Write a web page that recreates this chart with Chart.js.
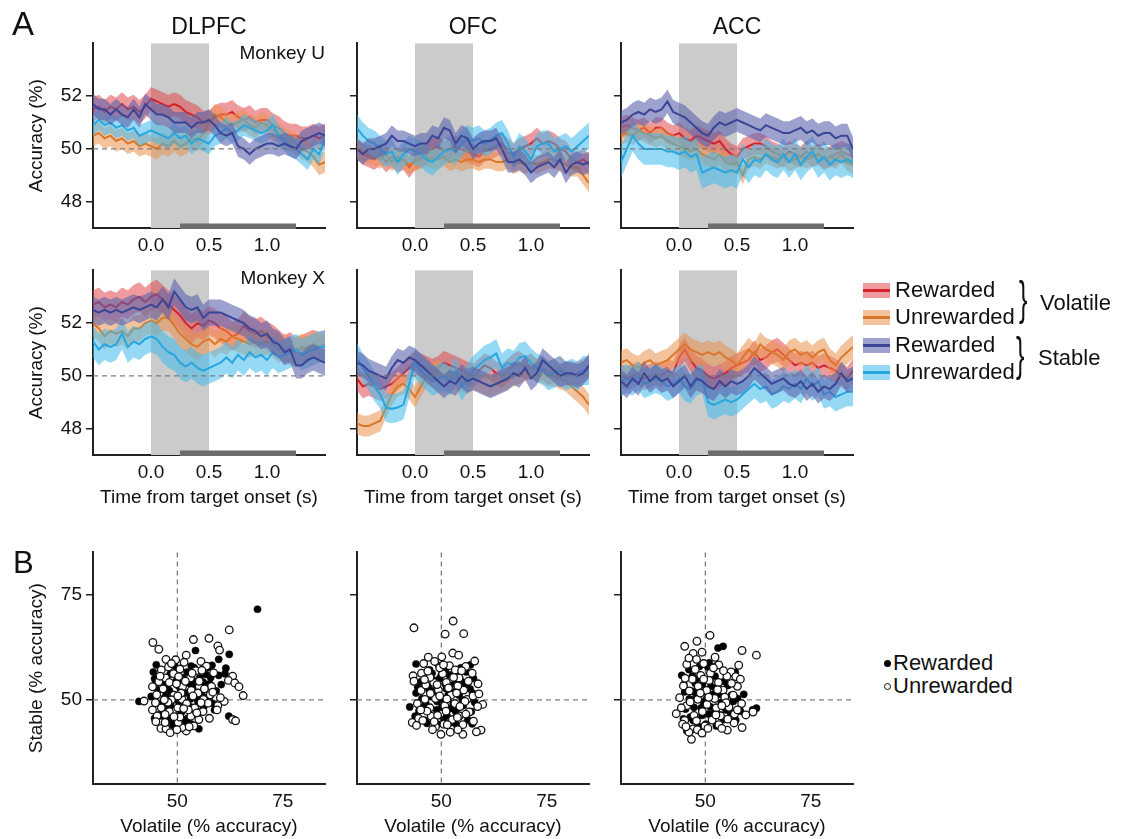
<!DOCTYPE html>
<html>
<head>
<meta charset="utf-8">
<title>Decoding accuracy by area</title>
<script src="https://cdn.jsdelivr.net/npm/chart.js@4.4.1/dist/chart.umd.min.js"></script>
<style>
  html, body { margin: 0; padding: 0; background: #fff; }
  #fig { position: relative; width: 1122px; height: 839px; overflow: hidden;
         font-family: "Liberation Sans", Arial, Helvetica, sans-serif; color: #111; }
  #fig canvas { position: absolute; }
  .lbl { position: absolute; white-space: nowrap; line-height: 1; transform-origin: left center; }
  .sw { position: absolute; width: 27px; height: 15px; }
  .sw i { position: absolute; left: 0; right: 0; top: 6px; height: 3px; }
  .dot { position: absolute; width: 7px; height: 7px; border-radius: 50%; box-sizing: border-box; }
</style>
</head>
<body>
<div id="fig"></div>
<script>
/* global Chart */

// ---- data -------------------------------------------------------------------------------

const time = [-0.5, -0.45, -0.4, -0.35, -0.3, -0.25, -0.2, -0.15, -0.1, -0.05,
  0, 0.05, 0.1, 0.15, 0.2, 0.25, 0.3, 0.35, 0.4, 0.45,
  0.5, 0.55, 0.6, 0.65, 0.7, 0.75, 0.8, 0.85, 0.9, 0.95,
  1.0, 1.05, 1.1, 1.15, 1.2, 1.25, 1.3, 1.35, 1.4, 1.45, 1.5];
const timeRange = [-0.5, 1.5];
const timeTicks = [0, 0.5, 1.0];
const accRange = [47, 54];
const accTicks = [48, 50, 52];
const stimWindow = [0, 0.5];          // grey shading
const analysisWindow = [0.25, 1.25];  // dark bar on the time axis
const chance = 50;

const areaNames = ["DLPFC", "OFC", "ACC"];
const monkeyNames = ["Monkey U", "Monkey X"];
const conditionLabels = ["Rewarded", "Unrewarded", "Rewarded", "Unrewarded"];
const groupLabels = ["Volatile", "Stable"];

// Monkey U
const dlpfcU_volRew = [51.5, 51.6, 51.4, 51.6, 51.5, 51.7, 51.5, 51.6, 51.4, 51.6,
  51.9, 51.8, 51.7, 51.6, 51.7, 51.6, 51.4, 51.3, 51.2, 51.0,
  51.0, 51.2, 51.3, 51.3, 51.4, 51.2, 51.1, 51.2, 51.0, 51.1,
  51.1, 50.9, 50.8, 50.6, 50.5, 50.5, 50.4, 50.4, 50.5, 50.4, 50.5];
const dlpfcU_volUnrew = [50.5, 50.6, 50.4, 50.5, 50.3, 50.4, 50.2, 50.3, 50.1, 50.2,
  50.1, 50.0, 50.2, 50.1, 50.3, 50.1, 50.2, 50.4, 50.3, 50.6,
  51.0, 51.3, 51.2, 51.0, 50.9, 51.0, 51.1, 50.9, 50.8, 51.0,
  50.9, 50.7, 50.6, 50.4, 50.3, 50.2, 50.0, 49.9, 49.7, 49.4, 49.5];
const dlpfcU_stbRew = [51.7, 51.5, 51.5, 51.3, 51.5, 51.3, 51.2, 51.5, 51.2, 51.7,
  51.5, 51.3, 51.3, 51.2, 51.0, 51.0, 51.0, 50.8, 51.0, 51.0,
  51.1, 50.9, 50.6, 50.5, 50.6, 50.1, 50.0, 49.8, 50.0, 50.1,
  50.2, 50.2, 50.1, 50.2, 50.1, 50.0, 50.3, 50.4, 50.5, 50.6, 50.5];
const dlpfcU_stbUnrew = [50.9, 51.1, 50.9, 51.0, 50.8, 50.9, 50.7, 50.8, 50.5, 50.6,
  50.7, 50.6, 50.5, 50.4, 50.6, 50.4, 50.5, 50.2, 50.4, 50.3,
  50.2, 50.5, 50.6, 50.8, 50.6, 50.7, 50.9, 50.8, 50.7, 50.6,
  50.7, 50.9, 50.5, 50.3, 50.1, 50.0, 49.8, 49.6, 50.0, 49.8, 50.4];

const ofcU_volRew = [50.0, 49.8, 49.7, 49.6, 49.8, 49.5, 49.7, 49.5, 49.6, 49.3,
  49.6, 49.7, 49.8, 50.0, 50.1, 49.9, 50.0, 50.1, 50.0, 49.9,
  49.8, 49.7, 49.9, 50.0, 50.1, 50.2, 50.0, 49.8, 50.0, 50.1,
  50.2, 50.4, 50.2, 50.3, 50.2, 50.0, 49.9, 49.6, 49.5, 49.6, 49.4];
const ofcU_volUnrew = [50.0, 49.9, 49.8, 49.7, 49.6, 49.8, 49.5, 49.7, 49.6, 49.4,
  49.5, 49.6, 49.7, 49.6, 49.6, 49.7, 49.5, 49.6, 49.5, 49.6,
  49.6, 49.5, 49.6, 49.6, 49.5, 49.5, 49.6, 49.4, 49.5, 49.4,
  49.5, 49.4, 49.5, 49.6, 49.6, 49.5, 49.4, 49.3, 49.3, 49.0, 48.7];
const ofcU_stbRew = [50.0, 49.8, 50.0, 50.0, 50.1, 50.2, 50.5, 50.3, 50.3, 50.2,
  50.1, 50.2, 50.2, 50.5, 50.4, 50.8, 50.7, 50.2, 50.5, 50.4,
  50.0, 50.2, 50.3, 50.3, 50.4, 50.0, 49.5, 49.5, 49.6, 49.4,
  49.1, 49.3, 49.4, 49.5, 49.3, 49.6, 49.1, 49.4, 49.5, 49.4, 49.5];
const ofcU_stbUnrew = [50.8, 50.5, 50.3, 50.2, 50.0, 49.8, 49.9, 49.5, 49.8, 50.0,
  49.9, 49.8, 49.6, 49.5, 49.7, 49.9, 50.0, 49.9, 50.2, 50.4,
  50.3, 50.4, 50.2, 50.3, 50.5, 50.6, 50.2, 49.7, 50.1, 49.9,
  49.6, 50.1, 50.2, 50.2, 49.9, 50.0, 50.1, 49.9, 50.1, 50.3, 50.5];

const accU_volRew = [50.8, 50.9, 50.8, 50.7, 50.8, 50.6, 50.8, 50.8, 50.6, 50.5,
  50.6, 50.4, 50.3, 50.5, 50.4, 50.3, 50.2, 50.3, 50.0, 49.8,
  49.7, 50.0, 50.1, 50.2, 50.2, 50.1, 49.9, 49.8, 49.7, 49.9,
  49.8, 49.7, 49.9, 49.7, 49.8, 49.6, 49.7, 49.8, 49.9, 49.8, 49.7];
const accU_volUnrew = [50.5, 50.6, 50.5, 50.7, 50.6, 50.5, 50.4, 50.5, 50.3, 50.2,
  50.1, 50.0, 49.9, 50.0, 49.8, 49.7, 49.6, 49.8, 49.5, 49.4,
  49.5, 49.0, 49.6, 49.7, 49.6, 49.8, 49.7, 49.6, 49.7, 49.5,
  49.6, 49.7, 49.6, 49.7, 49.8, 49.6, 49.7, 49.6, 49.8, 49.5, 49.4];
const accU_stbRew = [51.0, 51.1, 51.3, 51.4, 51.3, 51.5, 51.4, 51.5, 51.8, 51.4,
  51.3, 51.2, 51.0, 50.8, 50.6, 50.5, 50.8, 51.0, 50.9, 51.0,
  51.1, 51.0, 50.9, 50.8, 50.7, 50.9, 50.8, 50.7, 50.6, 50.6,
  50.7, 50.8, 50.6, 50.7, 50.5, 50.6, 50.6, 50.4, 50.5, 50.5, 50.0];
const accU_stbUnrew = [49.5, 50.0, 50.5, 50.2, 50.0, 50.0, 50.0, 50.0, 49.9, 49.9,
  49.8, 49.9, 49.7, 49.8, 49.1, 49.2, 49.3, 49.2, 49.1, 49.2,
  49.1, 49.6, 49.3, 49.6, 49.5, 49.8, 49.6, 49.5, 49.8, 49.5,
  49.8, 49.4, 49.7, 49.9, 49.5, 49.7, 49.4, 49.6, 49.5, 49.6, 49.5];

// Monkey X
const dlpfcX_volRew = [52.7, 52.8, 52.6, 52.7, 52.6, 52.8, 52.7, 52.9, 53.0, 52.8,
  53.0, 53.1, 52.9, 52.7, 52.5, 52.3, 52.0, 51.8, 52.0, 51.9,
  52.1, 52.0, 51.8, 51.7, 51.5, 51.6, 51.9, 51.7, 51.6, 51.7,
  51.5, 51.4, 51.2, 51.0, 51.1, 50.9, 51.0, 51.1, 51.2, 51.1, 51.2];
const dlpfcX_volUnrew = [52.0, 51.8, 51.5, 51.7, 51.6, 51.7, 51.5, 51.8, 51.8, 52.0,
  52.1, 52.0, 52.2, 52.2, 51.9, 51.6, 51.4, 51.2, 51.1, 51.3,
  51.4, 51.2, 51.4, 51.3, 51.5, 51.4, 51.3, 51.2, 51.3, 51.2,
  51.3, 51.2, 51.0, 51.1, 50.9, 51.0, 51.1, 51.0, 51.2, 51.1, 51.1];
const dlpfcX_stbRew = [52.5, 52.4, 52.5, 52.4, 52.5, 52.4, 52.5, 52.6, 52.5, 52.6,
  52.7, 52.6, 52.9, 52.6, 53.2, 52.9, 52.6, 52.5, 52.6, 52.2,
  52.4, 52.4, 52.4, 52.3, 52.2, 52.1, 52.0, 51.8, 51.7, 51.5,
  51.6, 51.3, 51.2, 50.9, 51.0, 50.4, 50.4, 50.6, 50.7, 50.6, 50.5];
const dlpfcX_stbUnrew = [51.3, 51.0, 51.2, 51.1, 51.2, 51.6, 51.1, 51.3, 51.2, 51.4,
  51.5, 51.4, 51.1, 50.9, 50.8, 50.5, 50.35, 50.5, 50.3, 50.2,
  50.3, 50.4, 50.5, 50.7, 50.5, 50.8, 50.6, 50.9, 50.7, 50.8,
  50.6, 50.9, 50.7, 50.8, 50.9, 51.0, 50.8, 50.9, 51.0, 51.1, 51.1];

const ofcX_volRew = [49.9, 49.6, 49.7, 49.6, 49.5, 49.6, 49.7, 49.9, 50.1, 50.3,
  50.5, 50.4, 50.3, 50.2, 50.3, 50.5, 50.4, 50.3, 50.2, 50.1,
  50.0, 50.2, 50.4, 50.3, 50.1, 50.0, 50.2, 50.4, 50.5, 50.3,
  50.4, 50.2, 50.3, 50.1, 50.2, 50.3, 50.1, 50.0, 50.1, 50.2, 50.3];
const ofcX_volUnrew = [48.2, 48.1, 48.1, 48.2, 48.3, 48.8, 49.3, 49.6, 49.7, 49.5,
  49.2, 49.6, 50.0, 50.1, 50.2, 50.0, 49.8, 49.9, 49.8, 49.7,
  49.9, 49.8, 49.7, 49.6, 49.7, 49.8, 49.9, 50.0, 50.1, 50.2,
  50.3, 50.2, 50.1, 50.0, 50.0, 49.9, 49.8, 49.6, 49.4, 49.2, 48.9];
const ofcX_stbRew = [50.5, 50.4, 50.2, 50.1, 50.0, 49.9, 50.3, 50.6, 50.5, 50.7,
  50.6, 50.4, 50.2, 50.0, 49.8, 49.6, 49.8, 49.7, 50.0, 49.8,
  49.9, 49.8, 49.7, 49.6, 49.7, 49.8, 49.9, 50.1, 50.0, 50.3,
  49.9, 50.1, 50.6, 50.4, 50.2, 50.0, 50.1, 50.1, 50.0, 50.1, 50.4];
const ofcX_stbUnrew = [50.7, 50.3, 50.0, 49.6, 49.3, 48.8, 48.75, 48.8, 48.9, 49.7,
  50.5, 50.2, 50.0, 49.8, 49.9, 50.0, 49.8, 50.2, 49.6, 49.9,
  50.2, 50.4, 50.6, 50.7, 50.85, 50.3, 50.5, 50.4, 50.7, 50.75,
  50.5, 50.3, 50.2, 50.0, 50.1, 50.2, 50.0, 50.1, 50.0, 50.2, 50.2];

const accX_volRew = [50.0, 49.9, 50.0, 50.1, 49.9, 50.0, 50.1, 50.0, 50.2, 50.1,
  50.7, 51.0, 50.6, 50.3, 50.2, 50.0, 49.9, 50.0, 50.1, 50.3,
  50.4, 50.5, 50.6, 50.9, 50.6, 50.7, 50.9, 51.0, 50.8, 50.6,
  50.4, 50.5, 50.4, 50.5, 50.3, 50.4, 50.3, 50.2, 50.0, 49.9, 50.2];
const accX_volUnrew = [50.5, 50.6, 50.4, 50.3, 50.5, 50.6, 50.4, 50.5, 50.6, 50.8,
  51.0, 51.2, 51.0, 50.9, 50.8, 50.9, 50.8, 50.9, 50.7, 50.6,
  50.4, 50.7, 51.0, 50.8, 51.2, 51.0, 50.9, 50.8, 50.6, 50.9,
  51.0, 50.8, 50.9, 50.7, 50.9, 51.0, 50.6, 50.4, 50.7, 50.9, 51.1];
const accX_stbRew = [49.8, 49.6, 49.9, 49.7, 50.1, 49.8, 50.0, 49.8, 49.9, 49.6,
  49.8, 50.0, 49.6, 49.9, 49.8, 49.6, 49.5, 49.8, 49.6, 49.8,
  49.7, 49.8, 50.0, 50.3, 50.1, 49.9, 49.7, 49.8, 49.9, 49.7,
  49.6, 49.8, 49.5, 49.7, 49.4, 49.6, 49.5, 49.7, 50.1, 49.8, 49.9];
const accX_stbUnrew = [49.8, 49.9, 49.8, 50.0, 49.7, 49.8, 49.9, 49.8, 49.6, 49.7,
  49.9, 49.6, 49.5, 49.8, 49.9, 49.0, 48.9, 49.0, 49.1, 49.0,
  49.1, 49.3, 49.5, 49.7, 49.5, 49.6, 49.3, 49.4, 49.6, 49.5,
  49.7, 49.5, 49.9, 49.6, 49.8, 49.3, 49.4, 49.2, 49.3, 49.4, 49.4];

// s.e.m. half-width of each band: [vol rewarded, vol unrewarded, stable rewarded, stable unrewarded]
const semDlpfcU = [0.45, 0.4, 0.4, 0.4];
const semOfcU = [0.4, 0.35, 0.4, 0.5];
const semAccU = [0.4, 0.35, 0.45, 0.6];
const semDlpfcX = [0.55, 0.5, 0.5, 0.6];
const semOfcX = [0.45, 0.4, 0.45, 0.55];
const semAccX = [0.45, 0.45, 0.45, 0.55];

// Panel B: per-session accuracy, [volatile, stable]
const scatterRange = [30, 85];
const scatterTicks = [50, 75];
const markerLabels = ["Rewarded", "Unrewarded"];

const dlpfcRewarded = [[69, 71.5], [62.3, 60.8], [59.8, 59.6], [61.5, 57.5], [59.8, 55.8], [61.3, 56.2],
  [57.3, 57.7], [58.2, 58.2], [54.3, 61.7], [45.0, 58.3], [44.3, 56.6], [44.6, 55.0], [40.9, 49.6],
  [44.6, 45.6], [62.2, 46.1], [63.6, 45.2], [55.1, 43.1], [59.2, 52.1], [48.1, 52.2], [50.2, 53.4],
  [52.3, 56.6], [53.1, 50.2], [56.2, 48.1], [47.2, 48.3], [49.1, 45.2], [51.0, 47.1], [53.2, 44.3],
  [46.1, 46.2], [55.3, 55.2], [54.2, 53.1], [57.1, 51.2], [48.3, 56.1], [50.3, 49.6], [52.2, 51.6],
  [47.3, 51.1], [56.1, 54.2], [58.2, 49.2], [45.4, 52.3], [49.3, 58.1], [51.3, 55.2], [53.3, 58.0],
  [50.1, 46.2], [55.2, 47.1], [57.6, 53.8], [46.6, 54.0], [52.8, 53.9], [54.6, 50.4], [48.8, 49.9],
  [51.8, 44.9], [56.8, 56.0], [60.4, 53.6], [43.8, 50.8], [49.6, 54.3], [53.8, 46.6], [47.8, 45.3],
  [58.8, 47.6], [45.9, 49.0], [46.9, 50.4], [48.4, 48.6], [50.8, 52.4], [52.9, 48.4], [54.9, 49.6],
  [47.5, 53.1], [49.9, 56.8], [51.6, 49.3], [53.6, 54.6], [55.8, 51.0], [48.9, 44.0], [52.4, 45.6],
  [46.3, 47.5], [50.7, 54.9], [57.9, 55.3], [44.9, 53.9], [54.0, 57.6], [49.3, 50.9]];
const dlpfcUnrewarded = [[44.2, 63.6], [45.6, 62.0], [53.8, 64.3], [57.5, 64.6], [59.6, 62.8], [60.0, 61.8],
  [62.3, 66.6], [52.1, 60.6], [49.6, 59.5], [47.3, 59.6], [55.6, 59.1], [63.1, 55.6], [62.1, 54.6],
  [63.6, 54.0], [64.6, 53.1], [65.6, 51.0], [61.1, 49.6], [59.6, 48.6], [59.4, 47.6], [57.6, 45.6],
  [63.1, 45.3], [63.8, 45.0], [42.1, 49.7], [44.1, 53.1], [45.1, 51.2], [46.2, 48.1], [46.1, 43.2],
  [47.3, 43.1], [48.3, 42.2], [52.1, 42.6], [51.1, 43.4], [50.2, 44.6], [53.2, 46.1], [55.1, 45.3],
  [54.1, 48.1], [56.2, 50.1], [57.1, 52.1], [58.1, 53.2], [53.3, 52.2], [51.1, 50.1], [49.2, 51.1],
  [47.2, 55.2], [48.1, 54.1], [46.2, 57.1], [49.1, 56.2], [51.2, 53.1], [53.1, 55.2], [55.2, 53.1],
  [50.1, 48.1], [48.1, 47.2], [52.2, 49.1], [56.1, 47.2], [45.2, 46.2], [44.1, 47.6], [47.9, 57.8],
  [50.6, 57.3], [54.4, 56.9], [56.9, 58.0], [58.6, 56.4], [46.6, 52.6], [48.6, 50.0], [50.9, 51.6],
  [52.6, 47.6], [54.9, 51.6], [57.3, 49.2], [59.1, 50.6], [45.6, 54.3], [49.9, 42.9], [53.9, 43.8],
  [47.1, 46.5], [51.6, 58.9], [55.8, 57.0], [50.3, 55.5], [44.8, 49.3], [45.9, 55.6], [47.8, 49.4],
  [49.8, 53.8], [51.9, 54.4], [53.7, 50.9], [55.6, 49.3], [57.8, 51.2], [47.1, 44.6], [50.6, 45.9],
  [52.8, 43.6], [54.6, 46.9], [56.4, 52.6], [48.6, 58.6], [46.9, 50.0], [51.5, 47.9], [53.5, 56.3],
  [55.2, 54.4], [49.2, 46.0], [44.9, 44.8], [58.4, 51.8], [60.2, 50.5], [50.1, 50.9]];

const ofcRewarded = [[44.0, 58.5], [47.2, 57.1], [51.0, 57.3], [53.6, 56.6], [56.9, 58.3], [44.0, 51.6],
  [42.5, 48.3], [43.8, 46.1], [57.6, 55.1], [57.4, 51.6], [57.1, 47.2], [53.6, 44.1], [49.1, 44.2],
  [46.1, 45.1], [48.2, 52.1], [50.3, 50.2], [52.1, 53.4], [54.2, 51.1], [46.3, 49.2], [48.9, 47.6],
  [51.3, 46.3], [55.2, 48.6], [45.2, 54.3], [49.6, 55.1], [52.8, 49.1], [55.8, 53.6], [47.6, 50.8],
  [50.9, 53.8], [53.4, 47.2], [44.7, 47.4], [56.3, 45.2], [51.9, 55.9], [48.4, 45.6], [54.8, 54.3],
  [46.8, 53.2], [50.1, 48.3], [53.1, 51.9], [45.4, 50.3], [57.9, 49.4], [52.4, 44.6], [49.4, 58.1],
  [55.9, 56.6], [47.8, 56.3], [51.6, 51.1], [47.1, 52.4], [49.0, 49.6], [51.2, 52.6], [53.3, 53.9],
  [55.0, 50.0], [45.9, 48.3], [50.6, 45.3], [54.6, 57.6], [48.3, 54.6], [56.8, 52.6], [52.1, 47.9],
  [44.4, 53.0], [50.0, 55.9], [46.6, 44.4], [57.3, 44.3]];
const ofcUnrewarded = [[43.5, 67.1], [50.9, 65.6], [52.8, 68.7], [55.3, 65.7], [52.7, 61.1], [54.1, 60.6],
  [57.9, 59.2], [46.9, 60.1], [50.1, 60.2], [43.3, 55.7], [43.5, 54.4], [58.7, 53.8], [59.8, 48.9],
  [58.6, 48.4], [59.4, 42.8], [58.3, 42.4], [55.1, 41.8], [52.1, 42.3], [48.6, 43.6], [43.1, 44.6],
  [44.6, 45.6], [45.6, 45.1], [47.6, 46.1], [45.2, 52.2], [46.1, 50.1], [47.3, 48.1], [48.2, 54.1],
  [49.3, 52.3], [50.3, 56.2], [51.2, 54.1], [52.3, 51.1], [53.2, 49.1], [54.2, 55.2], [55.3, 52.3],
  [56.1, 50.1], [56.6, 47.1], [54.3, 46.2], [52.6, 45.3], [50.6, 44.2], [49.1, 46.3], [46.6, 47.3],
  [44.3, 49.1], [45.3, 56.3], [47.3, 55.3], [49.6, 57.6], [51.9, 58.1], [53.3, 57.1], [55.8, 57.9],
  [57.3, 56.3], [48.6, 50.3], [50.8, 48.6], [53.9, 53.3], [51.3, 50.2], [46.3, 53.5], [55.1, 44.1],
  [57.6, 44.9], [47.9, 42.9], [44.1, 43.9], [49.9, 41.8], [53.9, 42.9], [56.4, 54.4], [45.8, 58.6],
  [48.4, 59.1], [47.4, 51.5], [49.6, 50.9], [51.7, 52.8], [53.6, 51.6], [55.6, 49.6], [57.5, 50.9],
  [45.1, 47.6], [48.3, 44.8], [51.4, 44.1], [53.8, 45.8], [55.8, 46.6], [46.8, 56.8], [50.5, 58.3],
  [52.9, 55.3], [54.8, 56.9], [49.0, 53.6], [46.0, 54.8], [58.9, 51.4], [51.1, 47.3], [54.4, 48.4]];

const accRewarded = [[53.0, 62.3], [54.2, 62.7], [57.1, 56.5], [59.1, 51.3], [62.1, 48.0], [61.2, 47.6],
  [44.4, 55.8], [44.9, 53.6], [44.8, 45.5], [47.1, 45.1], [50.1, 44.2], [52.2, 47.1], [55.2, 49.1],
  [57.2, 45.2], [46.2, 50.2], [48.2, 52.3], [50.2, 50.1], [51.3, 53.2], [53.2, 51.3], [55.3, 53.4],
  [47.3, 48.2], [49.2, 46.3], [51.2, 48.3], [54.3, 45.3], [46.1, 57.2], [48.1, 55.1], [50.6, 57.8],
  [52.3, 55.6], [56.2, 51.1], [58.3, 47.3], [45.3, 47.8], [49.3, 53.6], [53.8, 49.4], [47.6, 53.9],
  [51.8, 51.3], [56.6, 49.6], [45.6, 42.6], [50.9, 58.8], [48.6, 43.6], [54.9, 47.6], [52.6, 43.8],
  [46.9, 55.6], [57.6, 53.2], [49.6, 49.4], [47.8, 50.6], [49.8, 51.9], [52.4, 52.8], [54.5, 54.4],
  [55.9, 47.1], [46.4, 45.9], [50.7, 46.6], [53.3, 46.4], [48.6, 57.9], [52.7, 58.1], [45.1, 51.9],
  [57.6, 50.3], [49.0, 48.1], [51.1, 54.6], [47.0, 52.0]];
const accUnrewarded = [[45.1, 62.7], [48.0, 63.9], [51.1, 65.3], [47.1, 61.0], [58.7, 61.7], [62.1, 60.6],
  [53.2, 58.3], [56.1, 56.6], [57.2, 55.5], [43.9, 50.5], [43.1, 46.7], [45.1, 45.1], [47.1, 43.1],
  [46.7, 40.6], [48.1, 42.9], [49.2, 42.1], [53.2, 44.1], [55.2, 42.8], [58.7, 43.4], [61.3, 47.1],
  [58.6, 49.1], [56.6, 51.1], [45.6, 58.4], [47.6, 57.2], [49.6, 58.6], [44.8, 53.3], [46.2, 52.1],
  [48.2, 50.1], [50.3, 52.2], [52.2, 50.3], [54.2, 52.3], [55.6, 48.2], [53.6, 46.2], [51.6, 45.2],
  [49.3, 47.2], [47.3, 46.3], [45.6, 48.6], [46.9, 54.9], [48.9, 55.8], [51.2, 56.3], [53.1, 54.1],
  [55.1, 55.6], [57.6, 53.2], [50.4, 48.9], [52.6, 48.1], [48.3, 53.2], [50.9, 54.6], [54.6, 50.6],
  [56.9, 46.6], [44.6, 44.2], [46.1, 42.3], [49.9, 43.8], [53.9, 43.2], [56.8, 44.5], [59.6, 46.4],
  [57.9, 58.2], [52.3, 60.1], [46.1, 59.9], [49.2, 61.3], [46.4, 49.5], [48.8, 51.6], [50.8, 50.6],
  [52.9, 52.4], [54.9, 49.3], [56.2, 53.9], [58.3, 54.9], [45.2, 55.1], [47.9, 45.0], [50.6, 43.2],
  [52.5, 46.4], [55.3, 45.4], [57.6, 47.6], [44.3, 48.1], [49.6, 54.9], [51.9, 57.6], [54.3, 56.9],
  [47.9, 59.6], [53.9, 48.6], [45.4, 43.6]];

// ---- styling / layout -------------------------------------------------------------------

const FONT = "'Liberation Sans', Arial, Helvetica, sans-serif";
Chart.defaults.font.family = FONT;
Chart.defaults.color = "#111";

const STYLES = [
  { band: "rgba(226, 72, 78, 0.55)", line: "#d2232b" },   // volatile rewarded
  { band: "rgba(234, 146, 78, 0.55)", line: "#d9782a" },  // volatile unrewarded
  { band: "rgba(92, 98, 172, 0.6)", line: "#3b4596" },    // stable rewarded
  { band: "rgba(64, 186, 236, 0.55)", line: "#27a6df" },  // stable unrewarded
];
// drawing order: first is underneath
const DRAW_ORDER = [0, 1, 3, 2];

const COLS = [93, 357, 621];
const LINE_ROWS = [43, 270];
const SCATTER_TOP = 552;
const PLOT_W = 232, LINE_H = 185, SCATTER_H = 232;
const PAD_L = 75, PAD_T = 15, PAD_R = 12;
const AXIS = "#222";

const fig = document.getElementById("fig");

function label(text, x, y, size, align = "left", extraTransform = "") {
  // y is the middle of the capitals
  const d = document.createElement("div");
  d.className = "lbl";
  d.textContent = text;
  d.style.fontSize = size + "px";
  d.style.left = x + "px";
  d.style.top = (y - 0.49 * size) + "px";
  const tx = align === "center" ? "-50%" : align === "right" ? "-100%" : "0";
  d.style.transform = `translateX(${tx})${extraTransform}`;
  fig.appendChild(d);
  return d;
}

function makeCanvas(left, top, w, h) {
  const c = document.createElement("canvas");
  c.width = w;
  c.height = h;
  c.style.left = left + "px";
  c.style.top = top + "px";
  c.style.width = w + "px";
  c.style.height = h + "px";
  fig.appendChild(c);
  return c;
}

function dashed(ctx, x0, y0, x1, y1) {
  ctx.save();
  ctx.strokeStyle = "rgba(120, 120, 120, 0.95)";
  ctx.lineWidth = 1.3;
  ctx.setLineDash([5, 4]);
  ctx.beginPath();
  ctx.moveTo(x0, y0);
  ctx.lineTo(x1, y1);
  ctx.stroke();
  ctx.restore();
}

// grey stimulus window, chance line and the analysis-window bar
const timeMarks = {
  id: "timeMarks",
  beforeDatasetsDraw(chart) {
    const { ctx, chartArea: a, scales: { x } } = chart;
    const x0 = x.getPixelForValue(stimWindow[0]);
    const x1 = x.getPixelForValue(stimWindow[1]);
    ctx.save();
    ctx.fillStyle = "#cbcbcb";
    ctx.fillRect(x0, a.top, x1 - x0, a.bottom - a.top);
    ctx.restore();
  },
  afterDatasetsDraw(chart) {
    const { ctx, chartArea: a, scales: { y } } = chart;
    const yy = y.getPixelForValue(chance);
    dashed(ctx, a.left, yy, a.right, yy);
  },
  afterDraw(chart) {
    const { ctx, chartArea: a, scales: { x } } = chart;
    const x0 = x.getPixelForValue(analysisWindow[0]);
    const x1 = x.getPixelForValue(analysisWindow[1]);
    ctx.save();
    ctx.fillStyle = "#6d6d6d";
    ctx.fillRect(x0, a.bottom - 4.5, x1 - x0, 5.5);
    ctx.restore();
  },
};

const crossHairs = {
  id: "crossHairs",
  beforeDatasetsDraw(chart) {
    const { ctx, chartArea: a, scales: { x, y } } = chart;
    const xx = x.getPixelForValue(chance);
    const yy = y.getPixelForValue(chance);
    dashed(ctx, xx, a.top, xx, a.bottom);
    dashed(ctx, a.left, yy, a.right, yy);
  },
};

function yAxis(range, ticks, showLabels, title) {
  return {
    type: "linear",
    min: range[0],
    max: range[1],
    afterBuildTicks: (s) => { s.ticks = ticks.map((v) => ({ value: v })); },
    afterFit: (s) => { s.width = PAD_L; },
    ticks: { padding: 4, font: { size: 19 }, color: "#111", callback: (v) => (showLabels ? String(v) : "") },
    grid: { drawOnChartArea: false, drawTicks: true, tickLength: 7, color: AXIS, lineWidth: 1.5 },
    border: { display: true, color: AXIS, width: 2 },
    title: { display: !!title, text: title || "", font: { size: 19 }, color: "#111", padding: { top: 7, bottom: 0 } },
  };
}

function xAxis(range, ticks, fmt, title, height, titlePad) {
  return {
    type: "linear",
    min: range[0],
    max: range[1],
    afterBuildTicks: (s) => { s.ticks = ticks.map((v) => ({ value: v })); },
    afterFit: (s) => { s.height = height; },
    ticks: { padding: 6, font: { size: 19 }, color: "#111", maxRotation: 0, autoSkip: false, callback: fmt },
    grid: { display: false, drawTicks: false },
    border: { display: true, color: AXIS, width: 2 },
    title: { display: !!title, text: title || "", font: { size: 19 }, color: "#111", padding: { top: 0, bottom: titlePad } },
  };
}

const BASE = {
  responsive: false,
  animation: false,
  devicePixelRatio: 1,
  layout: { padding: { left: 0, top: PAD_T, right: PAD_R, bottom: 0 } },
  plugins: { legend: { display: false }, tooltip: { enabled: false } },
  elements: { point: { radius: 0 }, line: { tension: 0 } },
};

// ---- panel A ------------------------------------------------------------------------------

const linePanels = [
  { row: 0, col: 0, series: [dlpfcU_volRew, dlpfcU_volUnrew, dlpfcU_stbRew, dlpfcU_stbUnrew], sem: semDlpfcU },
  { row: 0, col: 1, series: [ofcU_volRew, ofcU_volUnrew, ofcU_stbRew, ofcU_stbUnrew], sem: semOfcU },
  { row: 0, col: 2, series: [accU_volRew, accU_volUnrew, accU_stbRew, accU_stbUnrew], sem: semAccU },
  { row: 1, col: 0, series: [dlpfcX_volRew, dlpfcX_volUnrew, dlpfcX_stbRew, dlpfcX_stbUnrew], sem: semDlpfcX },
  { row: 1, col: 1, series: [ofcX_volRew, ofcX_volUnrew, ofcX_stbRew, ofcX_stbUnrew], sem: semOfcX },
  { row: 1, col: 2, series: [accX_volRew, accX_volUnrew, accX_stbRew, accX_stbUnrew], sem: semAccX },
];

function bandDatasets(mean, sem, style, k) {
  const pts = (off) => time.map((t, i) => ({ x: t, y: mean[i] + off }));
  return [
    { data: pts(sem), fill: "+1", backgroundColor: style.band, borderWidth: 0, order: 100 - 10 * k },
    { data: pts(-sem), fill: false, borderWidth: 0, order: 99 - 10 * k },
    { data: pts(0), fill: false, borderColor: style.line, borderWidth: 2, order: 98 - 10 * k },
  ];
}

linePanels.forEach((p) => {
  const bottomRow = p.row === 1;
  const xh = bottomRow ? 60 : 40;
  const canvas = makeCanvas(COLS[p.col] - PAD_L, LINE_ROWS[p.row] - PAD_T, PAD_L + PLOT_W + PAD_R, PAD_T + LINE_H + xh);
  const datasets = [];
  DRAW_ORDER.forEach((s, k) => datasets.push(...bandDatasets(p.series[s], p.sem[s], STYLES[s], k)));
  new Chart(canvas.getContext("2d"), {
    type: "line",
    data: { datasets },
    options: {
      ...BASE,
      scales: {
        x: xAxis(timeRange, timeTicks, (v) => v.toFixed(1), bottomRow ? "Time from target onset (s)" : null, xh, 6),
        y: yAxis(accRange, accTicks, p.col === 0, p.col === 0 ? "Accuracy (%)" : null),
      },
    },
    plugins: [timeMarks],
  });
});

// ---- panel B ------------------------------------------------------------------------------

const scatterPanels = [
  { col: 0, rewarded: dlpfcRewarded, unrewarded: dlpfcUnrewarded },
  { col: 1, rewarded: ofcRewarded, unrewarded: ofcUnrewarded },
  { col: 2, rewarded: accRewarded, unrewarded: accUnrewarded },
];

scatterPanels.forEach((p) => {
  const xh = 55;
  const canvas = makeCanvas(COLS[p.col] - PAD_L, SCATTER_TOP - PAD_T, PAD_L + PLOT_W + PAD_R, PAD_T + SCATTER_H + xh);
  const toPts = (arr) => arr.map(([x, y]) => ({ x, y }));
  new Chart(canvas.getContext("2d"), {
    type: "scatter",
    data: {
      datasets: [
        { data: toPts(p.rewarded), pointRadius: 3.6, pointBackgroundColor: "#000", pointBorderColor: "#000", pointBorderWidth: 0.5, order: 2 },
        { data: toPts(p.unrewarded), pointRadius: 3.8, pointBackgroundColor: "#fff", pointBorderColor: "#111", pointBorderWidth: 1.3, order: 1 },
      ],
    },
    options: {
      ...BASE,
      scales: {
        x: xAxis(scatterRange, scatterTicks, (v) => String(v), "Volatile (% accuracy)", xh, 1),
        y: yAxis(scatterRange, scatterTicks, p.col === 0, p.col === 0 ? "Stable (% accuracy)" : null),
      },
    },
    plugins: [crossHairs],
  });
});

// ---- text and legends ------------------------------------------------------------------

label("A", 12, 23, 33);
label("B", 13, 562, 31);
areaNames.forEach((name, i) => label(name, COLS[i] + PLOT_W / 2, 26, 23, "center"));
label(monkeyNames[0], COLS[0] + PLOT_W, 52, 19, "right");
label(monkeyNames[1], COLS[0] + PLOT_W, 277, 19, "right");

const legendRows = [290, 317, 345, 372];
conditionLabels.forEach((txt, i) => {
  const sw = document.createElement("div");
  sw.className = "sw";
  sw.style.left = "863px";
  sw.style.top = (legendRows[i] - 7.5) + "px";
  sw.style.background = STYLES[i].band;
  const ln = document.createElement("i");
  ln.style.background = STYLES[i].line;
  sw.appendChild(ln);
  fig.appendChild(sw);
  label(txt, 895, legendRows[i], 22);
});
label("}", 1019, 298, 46, "left", " scaleX(0.55)");
label("}", 1016, 354, 46, "left", " scaleX(0.55)");
label(groupLabels[0], 1040, 303, 22);
label(groupLabels[1], 1038, 358, 22);

const scatterLegendRows = [663, 686];
markerLabels.forEach((txt, i) => {
  const d = document.createElement("div");
  d.className = "dot";
  d.style.left = "884px";
  d.style.top = (scatterLegendRows[i] - 3.5) + "px";
  d.style.background = i === 0 ? "#000" : "#fff";
  d.style.border = i === 0 ? "none" : "1.2px solid #111";
  fig.appendChild(d);
  label(txt, 893, scatterLegendRows[i], 22);
});
</script>
</body>
</html>
